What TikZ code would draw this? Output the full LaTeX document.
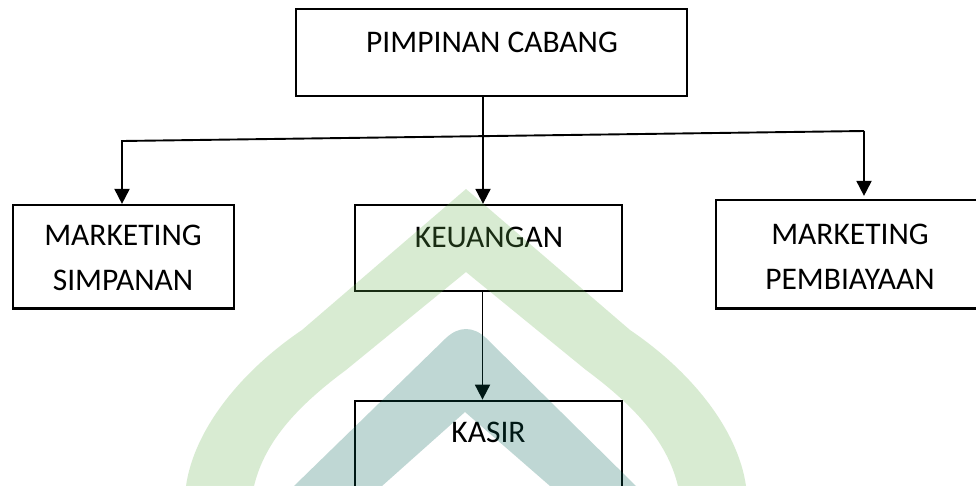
\documentclass[tikz,border=0pt]{standalone}
\usepackage{fontspec}
\setmainfont{Carlito}
\usetikzlibrary{arrows.meta}
\definecolor{wmgreen}{RGB}{103,179,79}
\definecolor{wmteal}{RGB}{3,99,87}
\begin{document}
\begin{tikzpicture}[x=1pt,y=-1pt,
  box/.style={draw=black, line width=2.3pt, rectangle, inner sep=0pt},
  txt/.style={font=\fontsize{31.5}{45}\selectfont, align=center, anchor=north, inner sep=0pt, text height=20.3pt},
  arr/.style={line width=1.9pt, line join=miter, -{Triangle[length=15pt,width=15pt]}},
  bus/.style={line width=1.9pt}]
\useasboundingbox (0,0) rectangle (976,485);
\fill[white] (0,0) rectangle (976,485);

% boxes
\node[box, minimum width=391pt, minimum height=87pt] (pc) at (491.6,52.5) {};
\node[box, minimum width=221.6pt, minimum height=103.3pt] (ms) at (123.5,256.7) {};
\node[box, minimum width=266.5pt, minimum height=86pt] (keu) at (488.5,248) {};
\node[box, minimum width=262.3pt, minimum height=108.3pt] (mp) at (846.9,254.2) {};
\node[box, minimum width=267pt, minimum height=99.3pt] (kasir) at (488.5,450.4) {};

% texts (multi-line: anchor refers to the last line)
\node[txt] (pct) at (492,31.7) {PIMPINAN CABANG};
\node[txt] (mst) at (123,270.0) {MARKETING\\SIMPANAN};
\node[txt] (keut) at (489,226.5) {KEUANGAN};
\node[txt] (mpt) at (850,268.5) {MARKETING\\PEMBIAYAAN};
\node[txt] (kasirt) at (488.5,421.8) {KASIR};

% connectors
\coordinate (busL) at (122,141);
\coordinate (busR) at (864,131);
\draw[arr] ([xshift=-8.6pt]pc.south) -- ([xshift=-5.5pt]keu.north);
\draw[arr] (busR) -- (busL) -- (busL |- ms.north);
\draw[arr, shorten >=3pt] (busR) -- (busR |- mp.north);
\draw[arr] ([xshift=-6pt]keu.south) -- ([xshift=-6pt]kasir.north);

% watermark
\begin{scope}[fill opacity=0.25]
\fill[wmgreen] (186,486) .. controls (194,430) and (240,372) .. (302,330) -- (466,189) -- (630,330) .. controls (692,372) and (738,430) .. (746,486) -- (678,486) .. controls (668,445) and (640,410) .. (586,370) -- (466,272) -- (346,370) .. controls (292,410) and (264,445) .. (254,486) -- cycle;
\fill[wmteal] (294,486) -- (446,338) .. controls (459,326) and (473,326) .. (486,338) -- (636,486) -- (550,486) -- (465,412) -- (382,486) -- cycle;
\end{scope}
\end{tikzpicture}
\end{document}
